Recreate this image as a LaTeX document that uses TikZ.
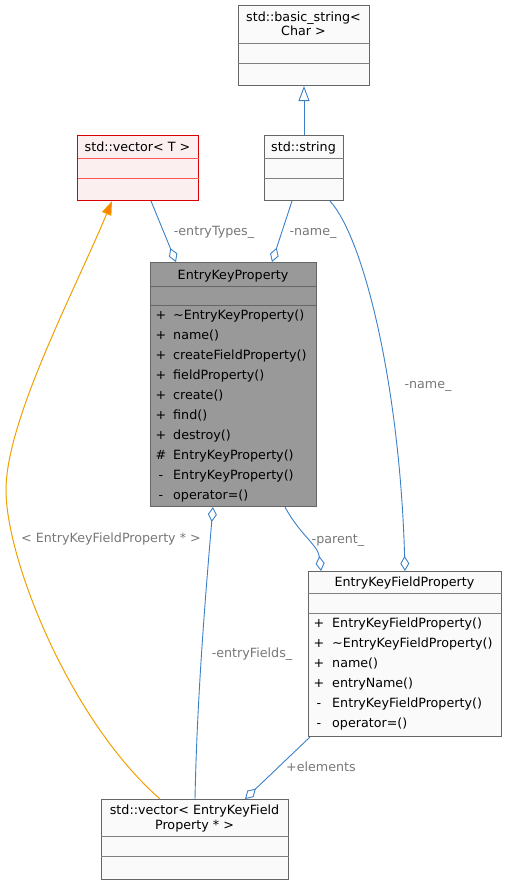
\documentclass[tikz,border=0pt]{standalone}
\usepackage{fontspec}
\setmainfont{DejaVu Sans}
\usetikzlibrary{arrows.meta,calc}
\definecolor{edgeblue}{RGB}{58,128,200}
\definecolor{boxgray}{HTML}{9A999A}
\definecolor{boxborder}{HTML}{666666}
\definecolor{sepgray}{HTML}{808080}
\definecolor{boxwhite}{HTML}{F9FAF9}
\definecolor{redfill}{HTML}{FCEFF0}
\definecolor{redsep}{HTML}{FF5555}
\definecolor{lblgray}{HTML}{777777}
\definecolor{orangeline}{HTML}{F0A000}
\tikzset{
  umlbox/.style={draw=boxborder, line width=1pt, fill=boxwhite, inner sep=0pt, anchor=north west},
  graybox/.style={umlbox, fill=boxgray},
  redbox/.style={umlbox, draw=red!85!black, fill=redfill},
  sepline/.style={draw=sepgray, line width=1pt},
  redsepline/.style={draw=redsep, line width=1pt},
  txt/.style={inner sep=0pt, text height=9.3pt, text depth=0pt, text=black},
  lbl/.style={inner sep=0pt, text height=9.3pt, text depth=0pt, text=lblgray},
  blueedge/.style={draw=edgeblue, line width=0.9pt},
  aggr/.style={blueedge, -{Diamond[open, length=15pt, width=9pt, line width=0.9pt]}},
  genl/.style={blueedge, -{Triangle[open, length=15pt, width=11pt, line width=0.9pt]}},
  tmpl/.style={draw=orangeline, line width=1pt, -{Triangle[length=14pt, width=10pt, fill=orange]}},
}
\begin{document}
\begin{tikzpicture}[x=1pt, y=-1pt, font=\fontsize{12.7}{15}\selectfont]
\useasboundingbox (0,0) rectangle (507,884);

% std::basic_string<Char>
\node[umlbox, minimum width=131pt, minimum height=80pt] (bs) at (238,5) {};
\draw[sepline] ($(bs.north west)+(0,38)$) -- ($(bs.north east)+(0,38)$);
\draw[sepline] ($(bs.north west)+(0,58)$) -- ($(bs.north east)+(0,58)$);
\node[txt] (bst1) at (303.5,17) {std::basic\_string<};
\node[txt] (bst2) at (303.5,31) {Char >};

% std::vector<T>
\node[redbox, minimum width=121pt, minimum height=65pt] (vt) at (77,135) {};
\draw[redsepline] ($(vt.north west)+(0.5,23)$) -- ($(vt.north east)+(-0.5,23)$);
\draw[redsepline] ($(vt.north west)+(0.5,43)$) -- ($(vt.north east)+(-0.5,43)$);
\node[txt] (vtt) at (137.5,147) {std::vector< T >};

% std::string
\node[umlbox, minimum width=79pt, minimum height=65pt] (ss) at (264,135) {};
\draw[sepline] ($(ss.north west)+(0,23)$) -- ($(ss.north east)+(0,23)$);
\draw[sepline] ($(ss.north west)+(0,43)$) -- ($(ss.north east)+(0,43)$);
\node[txt] (sst) at (303.5,147) {std::string};

% EntryKeyProperty
\node[graybox, minimum width=166pt, minimum height=244pt] (ekp) at (150,262) {};
\draw[sepline, draw=boxborder] ($(ekp.north west)+(0,24)$) -- ($(ekp.north east)+(0,24)$);
\draw[sepline, draw=boxborder] ($(ekp.north west)+(0,43)$) -- ($(ekp.north east)+(0,43)$);
\node[txt] (ekpt) at (233,275) {EntryKeyProperty};
\foreach \s/\m [count=\i] in {+/\textasciitilde EntryKeyProperty(), +/name(), +/createFieldProperty(), +/fieldProperty(), +/create(), +/find(), +/destroy(), \#/EntryKeyProperty(), -/EntryKeyProperty(), -/operator=()} {
  \node[txt] (ekps\i) at (161,295+20*\i) {\s};
  \node[txt, anchor=west] (ekpm\i) at (173,295+20*\i) {\m};
}

% EntryKeyFieldProperty
\node[umlbox, minimum width=193pt, minimum height=165pt] (ekfp) at (308,571) {};
\draw[sepline] ($(ekfp.north west)+(0,22)$) -- ($(ekfp.north east)+(0,22)$);
\draw[sepline] ($(ekfp.north west)+(0,42)$) -- ($(ekfp.north east)+(0,42)$);
\node[txt] (ekfpt) at (404.5,582) {EntryKeyFieldProperty};
\foreach \s/\m [count=\i] in {+/EntryKeyFieldProperty(), +/\textasciitilde EntryKeyFieldProperty(), +/name(), +/entryName(), -/EntryKeyFieldProperty(), -/operator=()} {
  \node[txt] (ekfps\i) at (319,603+20*\i) {\s};
  \node[txt, anchor=west] (ekfpm\i) at (332,603+20*\i) {\m};
}

% std::vector<EntryKeyFieldProperty *>
\node[umlbox, minimum width=187pt, minimum height=80pt] (bv) at (101,799) {};
\draw[sepline] ($(bv.north west)+(0,37)$) -- ($(bv.north east)+(0,37)$);
\draw[sepline] ($(bv.north west)+(0,57)$) -- ($(bv.north east)+(0,57)$);
\node[txt] (bvt1) at (194.5,810) {std::vector< EntryKeyField};
\node[txt] (bvt2) at (194.5,825) {Property * >};

% connectors
\draw[genl] (ss.north) -- (bs.south);
\draw[aggr] ($(vt.south west)+(74,0)$) -- ($(ekp.north west)+(26,0)$);
\draw[aggr] ($(ss.south west)+(28,0)$) -- ($(ekp.north west)+(122,0)$);
\draw[aggr] ($(ss.south west)+(66,0)$) .. controls (365,240) and (400,390) .. ($(ekfp.north west)+(97,0)$);
\draw[aggr] ($(ekp.south west)+(135,0)$) .. controls (300,535) and (318,545) .. ($(ekfp.north west)+(13,0)$);
\draw[aggr] ($(bv.north west)+(94,0)$) .. controls (197,700) and (205,600) .. ($(ekp.south west)+(63,0)$);
\draw[aggr] ($(ekfp.south west)+(2,0)$) -- ($(bv.north west)+(144,0)$);
\draw[tmpl] ($(bv.north west)+(59,0)$) .. controls (70,720) and (6,560) .. (6,490) .. controls (6,420) and (75,290) .. ($(vt.south west)+(35,0)$);

% labels
\node[lbl] (l1) at (214,231) {-entryTypes\_};
\node[lbl] (l2) at (313,231) {-name\_};
\node[lbl] (l3) at (428,384) {-name\_};
\node[lbl] (l4) at (338,539) {-parent\_};
\node[lbl] (l5) at (252,653) {-entryFields\_};
\node[lbl] (l6) at (321,767) {+elements};
\node[lbl] (l7) at (111,538) {< EntryKeyFieldProperty * >};
\end{tikzpicture}
\end{document}
